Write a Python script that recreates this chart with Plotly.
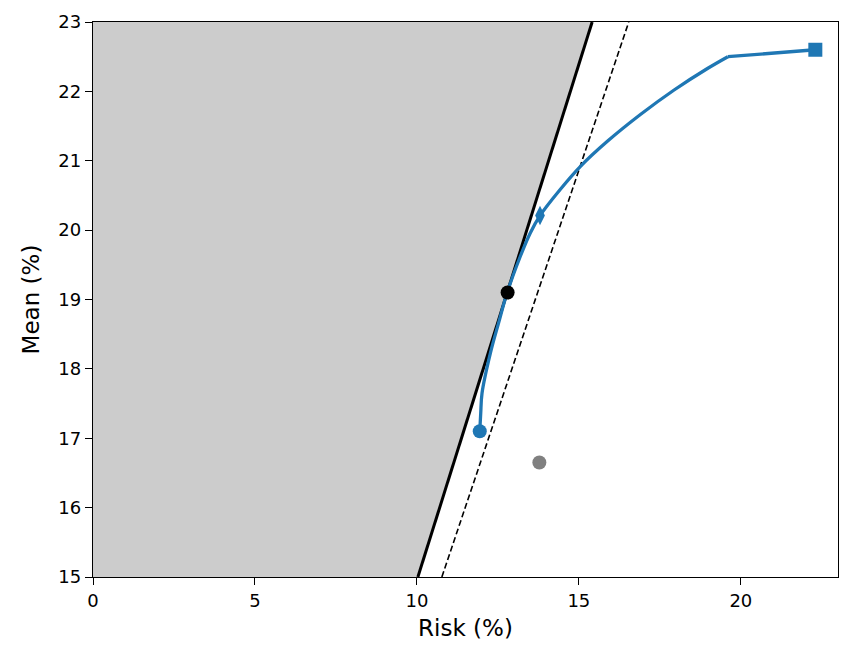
import plotly.graph_objects as go

# Data
frontier_x = [11.94, 11.97, 12.01, 12.27, 12.52, 12.78, 13.19, 13.50, 13.80, 14.43, 15.05, 15.88, 16.91, 17.94, 18.97, 19.60]
frontier_y = [17.10, 17.36, 17.65, 18.23, 18.66, 19.09, 19.62, 19.96, 20.21, 20.59, 20.92, 21.28, 21.67, 22.02, 22.33, 22.50]
tail_x = [19.60, 22.30]
tail_y = [22.50, 22.60]
start_pt = (11.94, 17.10)
diamond_pt = (13.80, 20.21)
end_pt = (22.30, 22.60)
tangent_pt = (12.80, 19.10)
gray_pt = (13.78, 16.65)
tangent_line_x = [10.03, 15.41]
tangent_line_y = [15.0, 23.0]
dashed_line_x = [10.77, 16.54]
dashed_line_y = [15.0, 23.0]
shade_x = [0, 10.03, 15.41, 0]
shade_y = [15, 15, 23, 23]
x_ticks = [0, 5, 10, 15, 20]
y_ticks = [15, 16, 17, 18, 19, 20, 21, 22, 23]

blue = "#1f77b4"
fig = go.Figure()
fig.add_trace(go.Scatter(x=shade_x, y=shade_y, fill="toself", fillcolor="#cccccc",
                         line=dict(width=0), mode="lines", hoverinfo="skip"))
fig.add_trace(go.Scatter(x=tangent_line_x, y=tangent_line_y, mode="lines",
                         line=dict(color="black", width=3)))
fig.add_trace(go.Scatter(x=dashed_line_x, y=dashed_line_y, mode="lines",
                         line=dict(color="black", width=1.6, dash="6px,3px")))
fig.add_trace(go.Scatter(x=frontier_x, y=frontier_y, mode="lines",
                         line=dict(color=blue, width=3.3, shape="spline", smoothing=1.0)))
fig.add_trace(go.Scatter(x=tail_x, y=tail_y, mode="lines",
                         line=dict(color=blue, width=3.3)))
fig.add_trace(go.Scatter(x=[start_pt[0]], y=[start_pt[1]], mode="markers",
                         marker=dict(color=blue, size=14, symbol="circle")))
fig.add_trace(go.Scatter(x=[diamond_pt[0]], y=[diamond_pt[1]], mode="markers",
                         marker=dict(color=blue, size=14, symbol="diamond-tall")))
fig.add_trace(go.Scatter(x=[end_pt[0]], y=[end_pt[1]], mode="markers",
                         marker=dict(color=blue, size=14, symbol="square")))
fig.add_trace(go.Scatter(x=[tangent_pt[0]], y=[tangent_pt[1]], mode="markers",
                         marker=dict(color="black", size=14, symbol="circle")))
fig.add_trace(go.Scatter(x=[gray_pt[0]], y=[gray_pt[1]], mode="markers",
                         marker=dict(color="gray", size=14, symbol="circle")))

axis_common = dict(showgrid=False, zeroline=False, showline=True, linecolor="black",
                   linewidth=1.3, mirror=True, ticks="outside", ticklen=7, tickwidth=1.3,
                   tickcolor="black", tickfont=dict(family="DejaVu Sans", size=18, color="black"))
fig.update_xaxes(range=[0, 23], tickvals=x_ticks,
                 title=dict(text="Risk (%)", font=dict(family="DejaVu Sans", size=23, color="black"), standoff=10),
                 **axis_common)
fig.update_yaxes(range=[15, 23], tickvals=y_ticks,
                 title=dict(text="Mean (%)", font=dict(family="DejaVu Sans", size=23, color="black"), standoff=12),
                 **axis_common)
fig.update_layout(width=853, height=665, showlegend=False,
                  margin=dict(l=93, r=15, t=22, b=88),
                  plot_bgcolor="white", paper_bgcolor="white")
fig.write_html("out.html")
